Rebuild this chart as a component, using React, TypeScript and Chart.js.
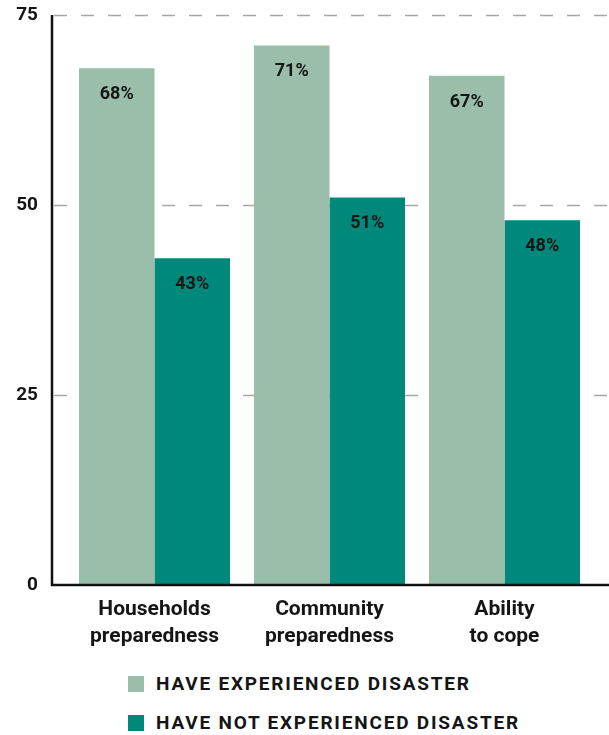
import React, { useEffect, useRef } from "react";
import { Chart, registerables } from "chart.js";

Chart.register(...registerables);

const categories: string[][] = [
  ["Households", "preparedness"],
  ["Community", "preparedness"],
  ["Ability", "to cope"],
];
const experienced: number[] = [68, 71, 67];
const notExperienced: number[] = [43, 51, 48];
const yTicks: number[] = [0, 25, 50, 75];
const seriesNames: string[] = ["HAVE EXPERIENCED DISASTER", "HAVE NOT EXPERIENCED DISASTER"];
const seriesColors: string[] = ["#9abea9", "#00887a"];

const FONT = "Roboto, 'Noto Sans', sans-serif";
const AXIS_LEFT = 52;

const axesPlugin = {
  id: "customAxes",
  beforeDatasetsDraw(chart: any) {
    const { ctx, scales, width } = chart;
    const y = scales.y;
    ctx.save();
    ctx.strokeStyle = "#a6a6a6";
    ctx.lineWidth = 1.5;
    ctx.setLineDash([13, 14]);
    for (const v of yTicks) {
      if (v === 0) continue;
      const py = Math.round(y.getPixelForValue(v)) + 0.5;
      ctx.beginPath();
      ctx.moveTo(AXIS_LEFT + 2, py);
      ctx.lineTo(width, py);
      ctx.stroke();
    }
    ctx.restore();
  },
  afterDatasetsDraw(chart: any) {
    const { ctx, scales, width } = chart;
    const y = scales.y;
    const top = y.getPixelForValue(75);
    const bottom = y.getPixelForValue(0);
    ctx.save();
    ctx.strokeStyle = "#111";
    ctx.lineWidth = 2.5;
    ctx.beginPath();
    ctx.moveTo(AXIS_LEFT, top);
    ctx.lineTo(AXIS_LEFT, bottom);
    ctx.lineTo(width, bottom);
    ctx.stroke();
    // data labels
    ctx.fillStyle = "#151515";
    ctx.font = `bold 18px ${FONT}`;
    ctx.textAlign = "center";
    ctx.textBaseline = "middle";
    chart.data.datasets.forEach((ds: any, di: number) => {
      const meta = chart.getDatasetMeta(di);
      meta.data.forEach((bar: any, i: number) => {
        ctx.fillText(`${ds.data[i]}%`, bar.x, bar.y + 26.5);
      });
    });
    ctx.restore();
  },
};

export default function App() {
  const ref = useRef<HTMLCanvasElement>(null);
  useEffect(() => {
    document.body.style.margin = "0";
    const chart = new Chart(ref.current as HTMLCanvasElement, {
      type: "bar",
      data: {
        labels: categories,
        datasets: [
          {
            label: seriesNames[0],
            data: experienced,
            backgroundColor: seriesColors[0],
            categoryPercentage: 0.863,
            barPercentage: 1,
          },
          {
            label: seriesNames[1],
            data: notExperienced,
            backgroundColor: seriesColors[1],
            categoryPercentage: 0.863,
            barPercentage: 1,
          },
        ],
      },
      options: {
        responsive: false,
        animation: false,
        layout: { padding: { top: 15, right: 17, left: 0, bottom: 0 } },
        plugins: { legend: { display: false }, tooltip: { enabled: false } },
        scales: {
          x: {
            afterFit(scale: any) {
              scale.height = 70;
              scale.paddingLeft = 0;
              scale.paddingRight = 0;
            },
            grid: { display: false },
            border: { display: false },
            ticks: {
              color: "#151515",
              font: { family: FONT, size: 21, weight: "bold", lineHeight: 1.3 },
              padding: 3,
              maxRotation: 0,
            },
          },
          y: {
            min: 0,
            max: 75,
            afterFit(scale: any) {
              scale.width = 67;
              scale.paddingTop = 0;
              scale.paddingBottom = 0;
            },
            afterBuildTicks(scale: any) {
              scale.ticks = yTicks.map((v) => ({ value: v }));
            },
            grid: { display: false },
            border: { display: false },
            ticks: {
              color: "#151515",
              font: { family: FONT, size: 19, weight: "bold" },
              padding: 21,
            },
          },
        },
      },
      plugins: [axesPlugin],
    });
    return () => chart.destroy();
  }, []);

  const legendRow = (i: number) => (
    <div
      key={i}
      style={{
        display: "flex",
        alignItems: "center",
        height: 39,
        paddingLeft: 128,
      }}
    >
      <span
        style={{
          display: "inline-block",
          width: 16,
          height: 16,
          background: seriesColors[i],
          marginRight: 12,
        }}
      />
      <span
        style={{
          fontFamily: FONT,
          fontWeight: 700,
          fontSize: 19,
          letterSpacing: "1.8px",
          color: "#151515",
          whiteSpace: "nowrap",
        }}
      >
        {seriesNames[i]}
      </span>
    </div>
  );

  return (
    <div style={{ width: 609, height: 735, position: "relative", background: "#fff", overflow: "hidden" }}>
      <canvas
        ref={ref}
        width={609}
        height={655}
        style={{ display: "block", position: "absolute", top: 0, left: 0 }}
      />
      <div style={{ position: "absolute", top: 664, left: 0 }}>
        {legendRow(0)}
        {legendRow(1)}
      </div>
    </div>
  );
}
